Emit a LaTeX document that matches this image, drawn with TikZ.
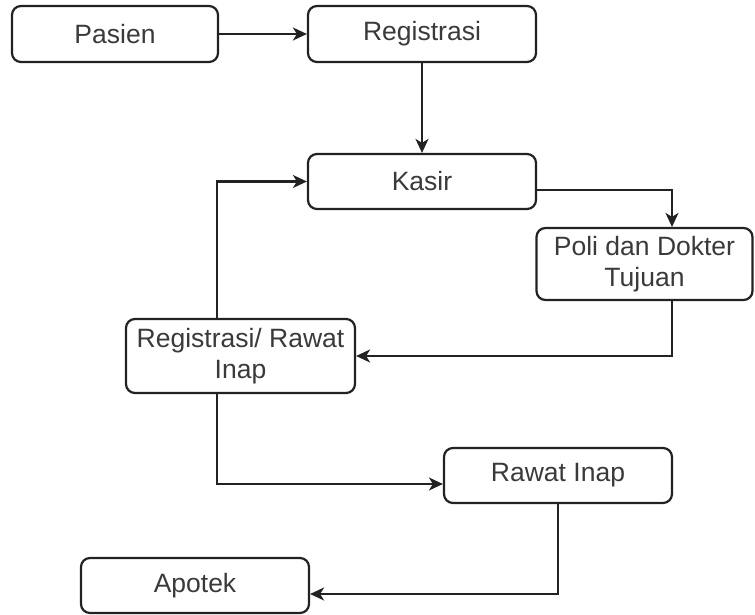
\documentclass[tikz,border=0pt]{standalone}
\usepackage{fontspec}
\setmainfont{Liberation Sans}
\usetikzlibrary{arrows.meta}
\definecolor{txt}{HTML}{3A3A3A}
\definecolor{ln}{HTML}{222222}
\begin{document}
\begin{tikzpicture}[x=1pt,y=-1pt,
  box/.style={draw=ln,line width=2.2pt,rounded corners=9pt,fill=white,inner sep=0pt,
    align=center,text=txt,font=\fontsize{26.5}{31}\selectfont},
  conn/.style={draw=ln,line width=2.2pt,-{Stealth[length=14pt,width=13pt,inset=4pt]}}]
\useasboundingbox (0,0) rectangle (755,615);
\node[box,minimum width=206pt,minimum height=56pt] (pasien) at (115,34) {Pasien};
\node[box,minimum width=228pt,minimum height=56pt] (reg) at (422,34) {Registrasi};
\node[box,minimum width=228pt,minimum height=55pt] (kasir) at (422,181.5) {Kasir};
\node[box,minimum width=216pt,minimum height=72pt] (poli) at (644.5,264) {Poli dan Dokter\\Tujuan};
\node[box,minimum width=229pt,minimum height=74pt] (regri) at (240.5,356) {Registrasi/ Rawat\\Inap};
\node[box,minimum width=228pt,minimum height=55pt] (rawat) at (558,475.5) {Rawat Inap};
\node[box,minimum width=228pt,minimum height=55pt] (apotek) at (195,585.5) {Apotek};
\draw[conn] (pasien.east) -- (reg.west);
\draw[conn] (reg.south) -- (kasir.north);
\draw[conn] ([yshift=-8.5pt]kasir.east) -| ([xshift=27.5pt]poli.north);
\draw[conn] ([xshift=27.5pt]poli.south) |- (regri.east);
\draw[conn] ([xshift=-23.5pt]regri.north) |- (kasir.west);
\draw[conn] ([xshift=-23.5pt]regri.south) |- ([yshift=-8.5pt]rawat.west);
\draw[conn] (rawat.south) |- ([yshift=-8.5pt]apotek.east);
\end{tikzpicture}
\end{document}
